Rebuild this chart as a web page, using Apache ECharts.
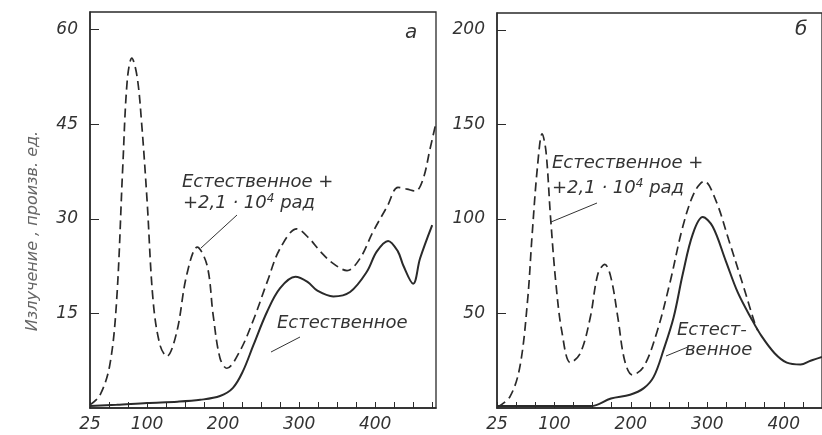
<!DOCTYPE html>
<html><head><meta charset="utf-8">
<script src="https://cdn.jsdelivr.net/npm/echarts@6/dist/echarts.min.js"></script>
<style>html,body{margin:0;padding:0;background:#fff}#c{width:822px;height:435px}</style>
</head><body><div id="c"></div>
<script>
// Panel а
const dashA_x = [25,38,51,60,68,74,80,87,93,100,108,117,126,139,152,166,179,187,196,205,222,240,258,275,297,314,328,345,363,380,397,416,430,442,453,463,472,479];
const dashA_y = [0.5,2,6.8,17,38,52,55.5,52.5,45,33,17,10,8.2,12,21,25.5,22.6,14.7,7.9,6.3,9,14,20,25.3,28.4,26.8,24.8,22.9,21.8,23.7,27.9,32,35,34.7,34.4,36.3,41,44.7];
const solidA_x = [25,60,100,140,170,196,213,226,240,258,275,295,311,324,345,367,389,402,417,430,437,450,459,475];
const solidA_y = [0.3,0.5,0.8,1.0,1.3,1.9,3.2,5.8,10,15.3,19,20.8,20,18.6,17.7,18.4,21.6,24.8,26.5,24.8,22.6,19.7,23.7,29];
// Panel б
const dashB_x = [26,42,55,65,71,78,84,89,95,102,110,121,134,147,157,166,174,183,192,202,217,234,251,268,283,296,311,328,346,362,366];
const dashB_y = [0.5,6,22,57,92,128,145,136,101,66,40,24,29,48,71,76,69,48,25,17.5,22,40,66,96,114,120,110,89,66,45,41];
const solidB_x = [25,100,148,174,199,217,230,243,256,268,281,294,307,324,340,358,371,388,404,422,435,450];
const solidB_y = [1,1,1,5,7,10.5,16.6,31,48,71,92,101,96,78,61,47,38,29,24,23,25,27];
const xLabels = [25,100,200,300,400];
const yTicksA = [15,30,45,60];
const yTicksB = [50,100,150,200];

const zip = (xs, ys) => xs.map((x, i) => [x, ys[i]]);
const FONT = '"DejaVu Sans", sans-serif';
const INK = '#2a2a2a';
const labelStyle = {fontFamily: FONT, fontStyle: 'italic', fontSize: 17, color: '#333'};

function xAxis(gi, max) {
  return {
    type: 'value', gridIndex: gi, min: 25, max: max, interval: 25,
    axisLine: {show: true, lineStyle: {color: INK, width: 1.5}},
    axisTick: {show: true, inside: true, length: 6, lineStyle: {color: INK, width: 1}},
    splitLine: {show: false},
    axisLabel: Object.assign({}, labelStyle, {margin: 8, showMaxLabel: false,
      formatter: v => xLabels.includes(v) ? String(v) : ''})
  };
}
function yAxis(gi, max, interval, ticks) {
  return {
    type: 'value', gridIndex: gi, min: 0, max: max, interval: interval,
    axisLine: {show: true, lineStyle: {color: INK, width: 1.5}},
    axisTick: {show: true, inside: true, length: 9, lineStyle: {color: INK, width: 1}},
    splitLine: {show: false},
    axisLabel: Object.assign({}, labelStyle, {margin: 12, showMaxLabel: false, showMinLabel: false,
      formatter: v => ticks.includes(v) ? String(v) : ''})
  };
}
function line(gi, data, dashed) {
  return {
    type: 'line', xAxisIndex: gi, yAxisIndex: gi, data: data, smooth: 0.35,
    symbol: 'none', silent: true,
    lineStyle: {color: INK, width: dashed ? 1.7 : 2, type: dashed ? [9, 5] : 'solid'}
  };
}
const ANN = 'italic 18px ' + FONT;
const txt = (x, y, t) => ({type: 'text', x: x, y: y,
  style: {text: t, fill: '#333', font: ANN, textAlign: 'left', textVerticalAlign: 'middle',
    rich: {sup: {font: 'italic 12px ' + FONT, fill: '#333', verticalAlign: 'top', padding: [0, 0, 8, 0]}}}});
const seg = (x1, y1, x2, y2) => ({type: 'line', shape: {x1, y1, x2, y2}, style: {stroke: '#333', lineWidth: 1}});

const chart = echarts.init(document.getElementById('c'));
chart.setOption({
  backgroundColor: '#fff',
  animation: false,
  grid: [
    {left: 90, top: 12, right: 386, bottom: 27, show: true, borderColor: INK, borderWidth: 1.3},
    {left: 497, top: 13, right: -7, bottom: 27, show: true, borderColor: INK, borderWidth: 1.3}
  ],
  xAxis: [xAxis(0, 480), xAxis(1, 450)],
  yAxis: [yAxis(0, 62.8, 15, yTicksA), yAxis(1, 209, 50, yTicksB)],
  series: [
    line(0, zip(dashA_x, dashA_y), true),
    line(0, zip(solidA_x, solidA_y), false),
    line(1, zip(dashB_x, dashB_y), true),
    line(1, zip(solidB_x, solidB_y), false)
  ],
  graphic: [
    {type: 'text', x: 33, y: 231, rotation: Math.PI / 2,
      style: {text: 'Излучение , произв. ед.', fill: '#666', font: 'italic 16px ' + FONT, textAlign: 'center', textVerticalAlign: 'middle'}},
    {type: 'text', x: 405, y: 33, style: {text: 'а', fill: '#333', font: 'italic 20px ' + FONT, textAlign: 'left', textVerticalAlign: 'middle'}},
    {type: 'text', x: 795, y: 30, style: {text: 'б', fill: '#333', font: 'italic 20px ' + FONT, textAlign: 'left', textVerticalAlign: 'middle'}},
    txt(182, 182, 'Естественное +'),
    txt(183, 203, '+2,1 · 10{sup|4} рад'),
    seg(237, 215, 201, 248),
    txt(277, 323, 'Естественное'),
    seg(300, 337, 271, 352),
    txt(552, 163, 'Естественное +'),
    txt(552, 188, '+2,1 · 10{sup|4} рад'),
    seg(597, 203, 551, 222),
    txt(677, 330, 'Естест-'),
    txt(685, 350, 'венное'),
    seg(688, 347, 666, 356)
  ]
});
</script></body></html>
